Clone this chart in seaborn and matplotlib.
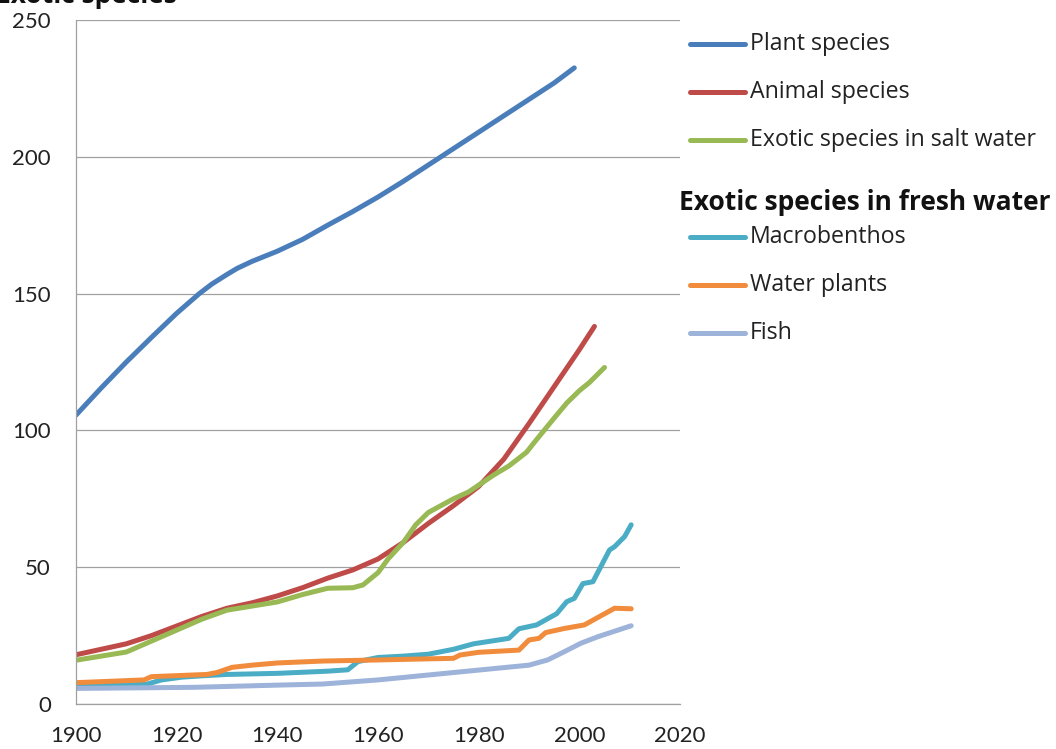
import pandas as pd
import seaborn as sns
import matplotlib.pyplot as plt
from matplotlib.lines import Line2D

# series (year, number of exotic species)
plant_years = [1900, 1905, 1910, 1915, 1920, 1924.5, 1927, 1930, 1932, 1935,
               1940, 1945, 1950, 1955, 1960, 1965, 1970, 1975, 1980, 1985, 1990,
               1995, 1999]
plant_vals = [105.6, 115.5, 125, 134, 142.8, 150, 153.5, 157, 159.2, 161.8,
              165.5, 169.8, 175, 180, 185.3, 191, 197, 203, 209, 215, 221,
              227, 232.5]

animal_years = [1900, 1905, 1910, 1915, 1920, 1925, 1930, 1935, 1940, 1945, 1950,
                1955, 1960, 1965, 1970, 1975, 1980, 1985, 1990, 1995, 2000, 2003]
animal_vals = [18, 20, 22, 25, 28.5, 32, 35, 37, 39.5, 42.5, 46,
               49, 53, 59, 66, 72.5, 79.5, 89.5, 102.5, 116, 129.5, 138]

salt_years = [1900, 1905, 1910, 1915, 1920, 1925, 1930, 1935, 1940, 1945, 1950,
              1955, 1957, 1960, 1962, 1965, 1967.5, 1970, 1975, 1978, 1980, 1983,
              1986, 1989.5, 1991, 1993, 1995, 1997.5, 2000, 2002, 2005]
salt_vals = [16, 17.5, 19, 23, 27, 31, 34.3, 35.8, 37.3, 40, 42.3,
             42.5, 43.5, 48, 53, 59, 65.5, 70, 75, 77.5, 80, 83.7,
             87, 92, 95.5, 100, 104.5, 110, 114.5, 117.5, 123]

macro_years = [1900, 1905, 1910, 1914, 1917, 1921, 1925, 1930, 1940, 1950, 1954,
               1956, 1960, 1965, 1970, 1975, 1979, 1986, 1988, 1991.5, 1995.5,
               1997.5, 1999, 2000.7, 2002.7, 2006, 2007, 2009, 2010.3]
macro_vals = [6.5, 6.7, 7, 7.2, 8.8, 9.8, 10.3, 10.8, 11.2, 12, 12.5,
              15.5, 17, 17.5, 18.2, 20, 22, 24, 27.5, 28.9, 33,
              37.4, 38.6, 44, 44.7, 56.3, 57.5, 61.2, 65.5]

wplant_years = [1900, 1913.5, 1915, 1926, 1928, 1931, 1935, 1940, 1949, 1960,
                1975, 1976.3, 1980, 1988, 1990, 1992, 1993.3, 1997, 2001, 2007, 2010.3]
wplant_vals = [7.8, 8.8, 10, 10.8, 11.5, 13.4, 14.2, 15, 15.7, 16.1,
               16.7, 17.9, 18.9, 19.7, 23.4, 24, 26.1, 27.6, 28.9, 35, 34.8]

fish_years = [1900, 1923.5, 1940, 1949, 1960, 1970, 1980, 1990, 1993.7, 1997,
              2000.3, 2003.7, 2010.3]
fish_vals = [5.7, 6.1, 6.9, 7.3, 8.8, 10.6, 12.4, 14.2, 16.1, 19.1,
             22.2, 24.6, 28.6]

names = ["Plant species", "Animal species", "Exotic species in salt water",
         "Macrobenthos", "Water plants", "Fish"]
colors = ["#4A7EBB", "#BE4B48", "#98B954", "#4BACC6", "#F08C3C", "#9DB3DA"]

series = [(plant_years, plant_vals), (animal_years, animal_vals),
          (salt_years, salt_vals), (macro_years, macro_vals),
          (wplant_years, wplant_vals), (fish_years, fish_vals)]
df = pd.concat([pd.DataFrame({"year": yrs, "count": vals, "series": name})
                for name, (yrs, vals) in zip(names, series)], ignore_index=True)

sns.set_theme(style="white")
plt.rcParams["font.family"] = ["Lato", "DejaVu Sans"]
plt.rcParams["lines.solid_capstyle"] = "round"
plt.rcParams["lines.solid_joinstyle"] = "round"
label_font = ["Open Sans", "DejaVu Sans"]

W, H = 1056, 749
fig = plt.figure(figsize=(W / 100, H / 100), dpi=100)
ax = fig.add_axes([76 / W, 45 / H, 604 / W, 684 / H])

sns.lineplot(data=df, x="year", y="count", hue="series", hue_order=names,
             palette=colors, estimator=None, sort=False, linewidth=3.6,
             legend=False, ax=ax)

grey = "#A0A0A0"
ax.set_xlim(1900, 2020)
ax.set_ylim(0, 250)
ax.set_xticks(range(1900, 2021, 20))
ax.set_xticks(range(1900, 2021, 10), minor=True)
ax.set_yticks(range(0, 251, 50))
ax.yaxis.grid(True, color=grey, linewidth=0.9)
ax.set_axisbelow(True)
ax.set_xlabel("")
ax.set_ylabel("")
for side in ["top", "right"]:
    ax.spines[side].set_visible(False)
for side in ["left", "bottom"]:
    ax.spines[side].set_color(grey)
    ax.spines[side].set_linewidth(0.9)
ax.tick_params(axis="both", which="both", direction="out", color=grey,
               width=0.9, length=6, labelsize=16, labelcolor="#222222")
ax.tick_params(axis="y", pad=12)
ax.tick_params(axis="x", pad=10)
ax.tick_params(axis="x", which="minor", length=6)

fig.text(-4 / W, 1 - 3 / H, "Exotic species", fontsize=19, fontweight="bold",
         family=label_font, ha="left", va="baseline", color="#111111")

# legend, drawn by hand to match the layout
def entry(i, ypx):
    fig.add_artist(Line2D([690 / W, 745 / W], [1 - ypx / H] * 2, color=colors[i],
                          linewidth=3.6, transform=fig.transFigure))
    fig.text(750 / W, 1 - ypx / H, names[i], fontsize=16.7, family=label_font,
             va="center", ha="left", color="#222222")

for i, ypx in zip(range(3), [44, 92, 140]):
    entry(i, ypx)
fig.text(679 / W, 1 - 202 / H, "Exotic species in fresh water", fontsize=19,
         fontweight="bold", family=label_font, va="center", ha="left",
         color="#111111")
for i, ypx in zip(range(3, 6), [237, 285, 333]):
    entry(i, ypx)

fig.savefig("out.png", dpi=100)
